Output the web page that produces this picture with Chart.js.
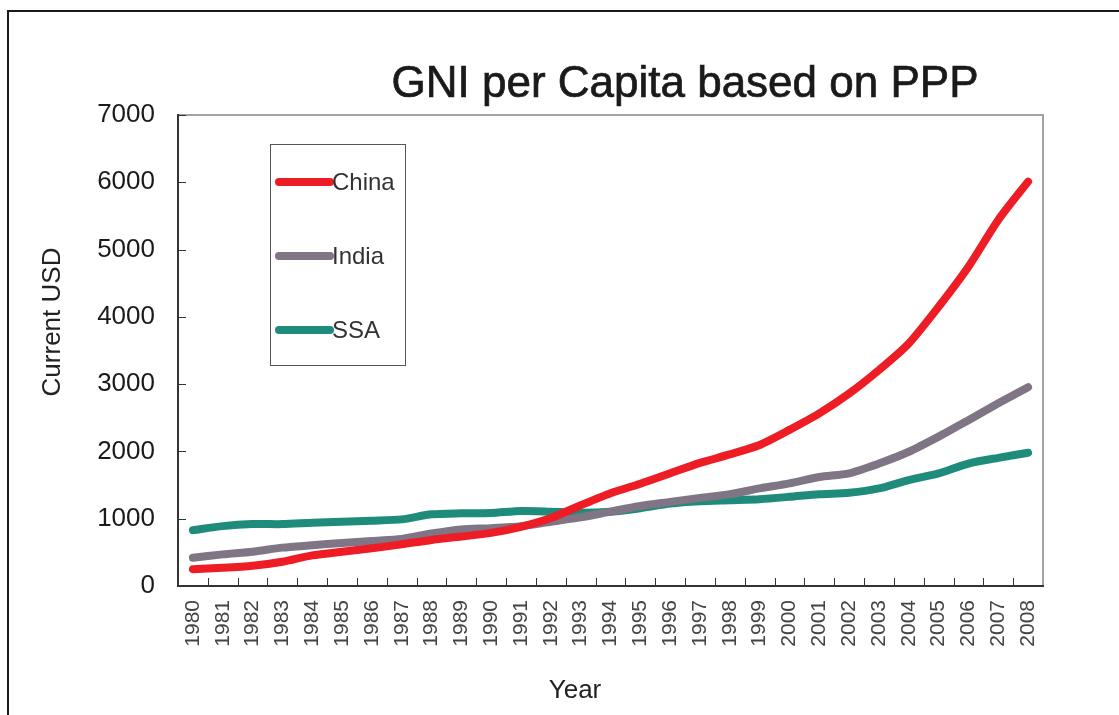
<!DOCTYPE html>
<html>
<head>
<meta charset="utf-8">
<script src="https://cdn.jsdelivr.net/npm/chart.js@4.4.0/dist/chart.umd.min.js"></script>
<style>
html,body{margin:0;padding:0;background:#fff;}
canvas{display:block;}
</style>
</head>
<body>
<canvas id="c" width="1119" height="715"></canvas>
<script>
// ---- data ----
const years = ['1980','1981','1982','1983','1984','1985','1986','1987','1988','1989',
               '1990','1991','1992','1993','1994','1995','1996','1997','1998','1999',
               '2000','2001','2002','2003','2004','2005','2006','2007','2008'];
const china = [250,270,300,360,455,510,560,620,685,735,
               790,880,1010,1200,1380,1520,1675,1830,1955,2095,
               2320,2565,2860,3210,3605,4150,4745,5440,6010];
const india = [420,470,510,570,605,640,670,700,780,840,
               860,890,955,1020,1105,1190,1250,1310,1365,1450,
               1525,1620,1675,1820,1995,2220,2465,2715,2955];
const ssa   = [830,890,920,920,940,955,970,990,1065,1080,
               1085,1115,1105,1090,1105,1155,1225,1260,1275,1290,
               1325,1365,1385,1450,1575,1675,1820,1905,1980];
const seriesNames = ['China','India','SSA'];
const yTickValues = [0,1000,2000,3000,4000,5000,6000,7000];
const titleText = 'GNI per Capita based on PPP';
const yTitleText = 'Current USD';
const xTitleText = 'Year';

const colors = ['#ee1d25','#7f7585','#1f8b7b'];

const decor = {
  id: 'decor',
  beforeDraw(chart) {
    const ctx = chart.ctx, a = chart.chartArea;
    ctx.save();
    // outer frame
    ctx.strokeStyle = '#1a1a1a';
    ctx.lineWidth = 2;
    ctx.beginPath();
    ctx.moveTo(8, 715); ctx.lineTo(8, 11); ctx.lineTo(1119, 11);
    ctx.stroke();
    // top & right plot border
    ctx.strokeStyle = '#a2a2a6';
    ctx.lineWidth = 2;
    ctx.beginPath();
    ctx.moveTo(a.left, a.top); ctx.lineTo(a.right, a.top); ctx.lineTo(a.right, a.bottom);
    ctx.stroke();
    ctx.restore();
  },
  beforeDatasetsDraw(chart) {
    // inward tick marks
    const ctx = chart.ctx, a = chart.chartArea;
    const xs = chart.scales.x, ys = chart.scales.y;
    ctx.save();
    ctx.strokeStyle = '#333';
    ctx.lineWidth = 1;
    ctx.beginPath();
    const n = chart.data.labels.length;
    const step = n > 1 ? xs.getPixelForTick(1) - xs.getPixelForTick(0) : 0;
    for (let i = 1; i < n; i++) {
      const px = Math.round(xs.getPixelForTick(i) - step / 2) + 0.5;
      ctx.moveTo(px, a.bottom); ctx.lineTo(px, a.bottom - 8);
    }
    yTickValues.forEach(v => {
      const py = Math.round(ys.getPixelForValue(v)) + 0.5;
      ctx.moveTo(a.left, py); ctx.lineTo(a.left + 8, py);
    });
    ctx.stroke();
    ctx.restore();
  },
  afterDraw(chart) {
    const ctx = chart.ctx;
    ctx.save();
    // main title
    ctx.fillStyle = '#1a1a1a';
    ctx.strokeStyle = '#1a1a1a';
    ctx.lineWidth = 0.7;
    ctx.font = '44px "Liberation Sans"';
    ctx.textAlign = 'center';
    ctx.textBaseline = 'alphabetic';
    ctx.fillText(titleText, 685, 97);
    ctx.strokeText(titleText, 685, 97);
    // axis titles
    ctx.fillStyle = '#222';
    ctx.font = '26px "Liberation Sans"';
    ctx.fillText(xTitleText, 575, 698);
    ctx.save();
    ctx.translate(60, 322);
    ctx.rotate(-Math.PI / 2);
    ctx.fillText(yTitleText, 0, 0);
    ctx.restore();
    // legend
    ctx.strokeStyle = '#555';
    ctx.lineWidth = 1;
    ctx.strokeRect(270.5, 144.5, 135, 221);
    ctx.textAlign = 'left';
    ctx.textBaseline = 'middle';
    ctx.font = '24px "Liberation Sans"';
    chart.data.datasets.forEach((ds, i) => {
      const y = 182 + i * 74;
      ctx.strokeStyle = ds.borderColor;
      ctx.lineWidth = 8;
      ctx.lineCap = 'round';
      ctx.beginPath();
      ctx.moveTo(279, y); ctx.lineTo(330, y);
      ctx.stroke();
      ctx.fillStyle = '#333';
      ctx.fillText(ds.label, 332, y + 1);
    });
    ctx.restore();
  }
};

const mk = (label, data, color) => ({
  label, data,
  borderColor: color,
  backgroundColor: color,
  borderWidth: 8,
  borderCapStyle: 'round',
  borderJoinStyle: 'round',
  pointRadius: 0,
  pointHoverRadius: 0,
  tension: 0.25,
  fill: false
});

new Chart(document.getElementById('c'), {
  type: 'line',
  data: {
    labels: years,
    datasets: [
      mk(seriesNames[0], china, colors[0]),
      mk(seriesNames[1], india, colors[1]),
      mk(seriesNames[2], ssa, colors[2])
    ]
  },
  options: {
    responsive: false,
    devicePixelRatio: 1,
    animation: false,
    events: [],
    layout: { padding: { left: 0, top: 115, right: 76, bottom: 0 } },
    plugins: {
      legend: { display: false },
      title: { display: false },
      tooltip: { enabled: false }
    },
    scales: {
      x: {
        type: 'category',
        offset: true,
        grid: { offset: true, drawOnChartArea: false, drawTicks: false },
        border: { color: '#333', width: 2 },
        ticks: {
          autoSkip: false, maxRotation: 90, minRotation: 90, padding: 14,
          color: '#444', font: { family: 'Liberation Sans', size: 21 }
        },
        afterFit(s) { s.height = 129; }
      },
      y: {
        min: 0, max: 7000,
        afterBuildTicks(s) { s.ticks = yTickValues.map(v => ({ value: v })); },
        grid: { drawOnChartArea: false, drawTicks: false },
        border: { color: '#333', width: 2 },
        ticks: {
          padding: 23, color: '#1a1a1a',
          font: { family: 'Liberation Sans', size: 26 },
          callback: v => String(v)
        },
        afterFit(s) { s.width = 178; }
      }
    }
  },
  plugins: [decor]
});
</script>
</body>
</html>
